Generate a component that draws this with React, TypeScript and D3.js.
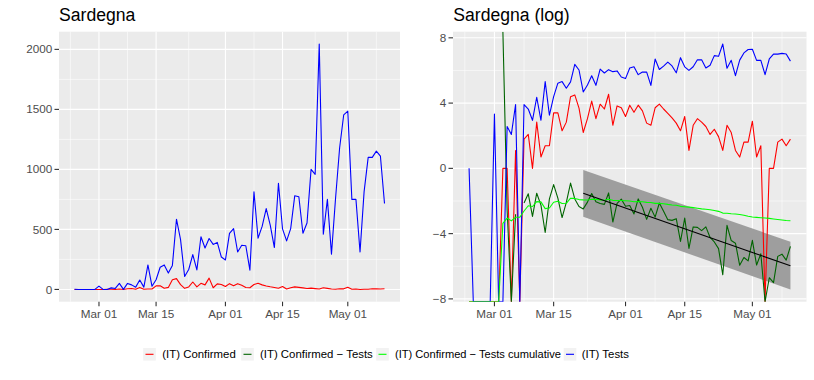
import React from "react";
import * as d3 from "d3";

// ---- data (daily values, first day 2020-02-24) ----
const startDate = "2020-02-24";
const tests = [
  1, 0, 0, 0, 0, 0, 28, 0, 0, 13, 8, 50, 0, 50, 38, 19, 78, 19, 204, 26,
  81, 185, 204, 136, 200, 585, 415, 108, 166, 290, 162, 439, 345, 424, 375, 392, 270, 245, 467, 506,
  312, 368, 364, 161, 814, 427, 525, 673, 533, 349, 884, 504, 404, 507, 781, 772, 468, 553, 1000, 959,
  2045, 460, 750, 294, 760, 1180, 1455, 1485, 750, 750, 312, 815, 1100, 1100, 1152, 1110, 716,
];
const confirmed = [
  0, 0, 0, 0, 0, 0, 0, 0, 1, 1, 0, 3, 0, 6, 8, 1, 17, 2, 4, 4,
  30, 30, 10, 17, 81, 90, 40, 9, 21, 62, 21, 51, 38, 94, 14, 46, 41, 24, 48, 31,
  48, 34, 16, 14, 41, 51, 38, 29, 22, 16, 10, 24, 3, 14, 21, 17, 13, 8, 11, 7,
  3, 14, 9, 3, 2, 5, 5, 18, 2, 4, 0, 1, 1, 5, 6, 4, 6,
];
// linear fit on log(Confirmed/Tests) with band
const fitDates = ["2020-03-22", "2020-05-10"];
const fitMid = [-1.53, -5.97];
const fitLow = [-2.97, -7.42];
const fitHigh = [-0.1, -4.5];

const xTickDates = ["2020-03-01", "2020-03-15", "2020-04-01", "2020-04-15", "2020-05-01"];
const xMinorDates = ["2020-02-23", "2020-03-08", "2020-03-23", "2020-04-08", "2020-04-23", "2020-05-08"];
const linYTicks = [0, 500, 1000, 1500, 2000];
const linYMinor = [250, 750, 1250, 1750];
const logYTicks = [-8, -4, 0, 4, 8];
const logYMinor = [-6, -2, 2, 6];
const seriesNames = [
  "(IT) Confirmed",
  "(IT) Confirmed \u2212 Tests",
  "(IT) Confirmed \u2212 Tests cumulative",
  "(IT) Tests",
];
const seriesColors = ["#FF0000", "#006400", "#00FF00", "#0000FF"];

const FONT = "'Liberation Sans', Arial, Helvetica, sans-serif";

type Box = { x0: number; x1: number; y0: number; y1: number };

function fmtNum(v: number) {
  return v < 0 ? "\u2212" + Math.abs(v) : String(v);
}

function Grid({ box, x, y, yMajor, yMinor, xMajor, xMinor }: any) {
  return (
    <g>
      <rect x={box.x0} y={box.y0} width={box.x1 - box.x0} height={box.y1 - box.y0} fill="#EBEBEB" />
      {yMinor.map((v: number) => (
        <line key={"ym" + v} x1={box.x0} x2={box.x1} y1={y(v)} y2={y(v)} stroke="#fff" strokeWidth={0.55} />
      ))}
      {xMinor.map((d: Date, i: number) => (
        <line key={"xm" + i} x1={x(d)} x2={x(d)} y1={box.y0} y2={box.y1} stroke="#fff" strokeWidth={0.55} />
      ))}
      {yMajor.map((v: number) => (
        <line key={"yM" + v} x1={box.x0} x2={box.x1} y1={y(v)} y2={y(v)} stroke="#fff" strokeWidth={1.1} />
      ))}
      {xMajor.map((d: Date, i: number) => (
        <line key={"xM" + i} x1={x(d)} x2={x(d)} y1={box.y0} y2={box.y1} stroke="#fff" strokeWidth={1.1} />
      ))}
    </g>
  );
}

function Axes({ box, x, y, yMajor, xMajor }: any) {
  const fmt = d3.utcFormat("%b %d");
  return (
    <g fontFamily={FONT} fontSize={11.7} fill="#4D4D4D">
      {yMajor.map((v: number) => (
        <g key={"yt" + v}>
          <line x1={box.x0 - 4.5} x2={box.x0} y1={y(v)} y2={y(v)} stroke="#333" strokeWidth={1.1} />
          <text x={box.x0 - 6.8} y={y(v)} dy="0.35em" textAnchor="end">
            {fmtNum(v)}
          </text>
        </g>
      ))}
      {xMajor.map((d: Date, i: number) => (
        <g key={"xt" + i}>
          <line x1={x(d)} x2={x(d)} y1={box.y1} y2={box.y1 + 4.5} stroke="#333" strokeWidth={1.1} />
          <text x={x(d)} y={box.y1 + 15.8} textAnchor="middle">
            {fmt(d)}
          </text>
        </g>
      ))}
    </g>
  );
}

export default function App() {
  const parse = d3.utcParse("%Y-%m-%d");
  const t0 = parse(startDate) as Date;
  const dates = tests.map((_, i) => d3.utcDay.offset(t0, i));
  const majors = xTickDates.map((s) => parse(s) as Date);
  const minors = xMinorDates.map((s) => parse(s) as Date);
  const fDates = fitDates.map((s) => parse(s) as Date);

  const span = +dates[dates.length - 1] - +dates[0];
  const xDom = [new Date(+dates[0] - 0.05 * span), new Date(+dates[dates.length - 1] + 0.05 * span)];

  const L: Box = { x0: 59, x1: 400, y0: 31.7, y1: 301.7 };
  const R: Box = { x0: 453, x1: 806.5, y0: 31.7, y1: 301.7 };

  const xL = d3.scaleUtc().domain(xDom).range([L.x0, L.x1]);
  const xR = d3.scaleUtc().domain(xDom).range([R.x0, R.x1]);

  // linear panel
  const linVals = [...tests, ...confirmed];
  const lLo = Math.min(0, d3.min(linVals) as number);
  const lHi = d3.max(linVals) as number;
  const lR = lHi - lLo;
  const yL = d3.scaleLinear().domain([lLo - 0.05 * lR, lHi + 0.05 * lR]).range([L.y1, L.y0]);

  // log panel
  const cumT = Array.from(d3.cumsum(tests));
  const cumC = Array.from(d3.cumsum(confirmed));
  const logSeries = [
    confirmed.map((c) => Math.log(c)),
    confirmed.map((c, i) => Math.log(c / tests[i])),
    cumC.map((c, i) => Math.log(c / cumT[i])),
    tests.map((t) => Math.log(t)),
  ];
  const finite = [...logSeries.flat(), ...fitLow, ...fitHigh, ...fitMid].filter((v) => Number.isFinite(v));
  const gLo = d3.min(finite) as number;
  const gHi = d3.max(finite) as number;
  const gR = gHi - gLo;
  const yR = d3.scaleLinear().domain([gLo - 0.05 * gR, gHi + 0.05 * gR]).range([R.y1, R.y0]);
  const yRmap = (v: number) => (v === Infinity ? R.y0 : v === -Infinity ? R.y1 : yR(v));

  const linLine = (vals: number[]) =>
    d3
      .line<number>()
      .x((_, i) => xL(dates[i]))
      .y((v) => yL(v))(vals) as string;

  const logLine = (vals: number[]) =>
    d3
      .line<number>()
      .defined((v) => !Number.isNaN(v))
      .x((_, i) => xR(dates[i]))
      .y((v) => yRmap(v))(vals) as string;

  const band = d3
    .area<number>()
    .x((_, i) => xR(fDates[i]))
    .y0((_, i) => yR(fitLow[i]))
    .y1((_, i) => yR(fitHigh[i]))([0, 1]) as string;
  const fitLine = d3
    .line<number>()
    .x((_, i) => xR(fDates[i]))
    .y((v) => yR(v))(fitMid) as string;

  // draw order on the log panel: red, dark green, blue, light green
  const logOrder = [0, 1, 3, 2];

  const legendKeyX = [149.5, 247.5, 382.5, 570];
  const legendTextX = [162.3, 260, 395, 581.7];
  const legendTextW = [0, 0, 166, 0];
  const legendY = 354.3;

  return (
    <svg
      width={814}
      height={380}
      style={{ position: "absolute", left: 0, top: 0, background: "#fff" }}
    >
      <defs>
        <clipPath id="clipL">
          <rect x={L.x0} y={L.y0} width={L.x1 - L.x0} height={L.y1 - L.y0} />
        </clipPath>
        <clipPath id="clipR">
          <rect x={R.x0} y={R.y0} width={R.x1 - R.x0} height={R.y1 - R.y0} />
        </clipPath>
      </defs>
      <rect x={0} y={0} width={814} height={380} fill="#fff" />

      {/* left panel */}
      <text x={59} y={21} fontFamily={FONT} fontSize={17.6} fill="#000">
        Sardegna
      </text>
      <Grid box={L} x={xL} y={yL} yMajor={linYTicks} yMinor={linYMinor} xMajor={majors} xMinor={minors} />
      <g clipPath="url(#clipL)" fill="none" strokeWidth={1.1} strokeLinejoin="round">
        <path d={linLine(confirmed)} stroke={seriesColors[0]} />
        <path d={linLine(tests)} stroke={seriesColors[3]} />
      </g>
      <Axes box={L} x={xL} y={yL} yMajor={linYTicks} xMajor={majors} />

      {/* right panel */}
      <text x={453.3} y={21} fontFamily={FONT} fontSize={17.6} fill="#000">
        Sardegna (log)
      </text>
      <Grid box={R} x={xR} y={yR} yMajor={logYTicks} yMinor={logYMinor} xMajor={majors} xMinor={minors} />
      <g clipPath="url(#clipR)">
        <path d={band} fill="#9E9E9E" />
        <g fill="none" strokeWidth={1.1} strokeLinejoin="round">
          {logOrder.map((k) => (
            <path key={k} d={logLine(logSeries[k])} stroke={seriesColors[k]} />
          ))}
        </g>
        <path d={fitLine} fill="none" stroke="#000" strokeWidth={1.1} />
      </g>
      <Axes box={R} x={xR} y={yR} yMajor={logYTicks} xMajor={majors} />

      {/* legend */}
      <g fontFamily={FONT} fontSize={11.4} fill="#000">
        {seriesNames.map((name, i) => (
          <g key={name}>
            <rect x={legendKeyX[i] - 6.3} y={legendY - 6.3} width={12.6} height={12.6} fill="#F2F2F2" />
            <line
              x1={legendKeyX[i] - 4}
              x2={legendKeyX[i] + 4}
              y1={legendY}
              y2={legendY}
              stroke={seriesColors[i]}
              strokeWidth={1.1}
            />
            {legendTextW[i] > 0 ? (
              <text
                x={legendTextX[i]}
                y={legendY}
                dy="0.35em"
                textLength={legendTextW[i]}
                lengthAdjust="spacingAndGlyphs"
              >
                {name}
              </text>
            ) : (
              <text x={legendTextX[i]} y={legendY} dy="0.35em">
                {name}
              </text>
            )}
          </g>
        ))}
      </g>
    </svg>
  );
}
